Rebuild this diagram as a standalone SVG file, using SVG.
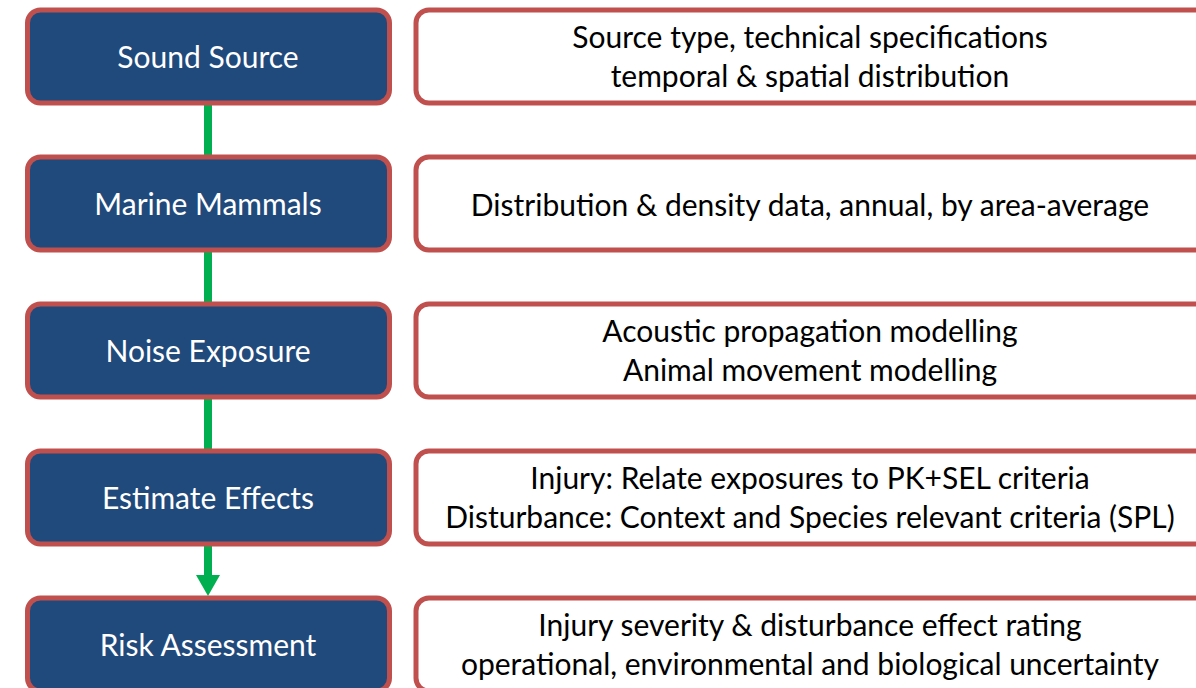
<svg xmlns="http://www.w3.org/2000/svg" width="1196" height="688" viewBox="0 0 1196 688">
<style>
.lb{fill:#214A7C;stroke:#C0504D;stroke-width:5}
.rb{fill:#fff;stroke:#C0504D;stroke-width:5}
.lt{font-family:Lato,"Open Sans",sans-serif;font-size:30px;fill:#fff;text-anchor:middle}
.rt{font-family:Lato,"Open Sans",sans-serif;font-size:30px;fill:#000;text-anchor:middle}
.cn{stroke:#00B050;stroke-width:8;fill:none}
</style>
<g id="connectors">
<line class="cn" x1="208" y1="105" x2="208" y2="157"/>
<line class="cn" x1="208" y1="252" x2="208" y2="304"/>
<line class="cn" x1="208" y1="399" x2="208" y2="451"/>
<line class="cn" x1="208" y1="546" x2="208" y2="576"/>
<path d="M196,575 L220,575 L208,596 Z" fill="#00B050"/>
</g>
<g id="sound-source"><rect class="lb" x="27.5" y="10" width="362" height="93" rx="13"/><text class="lt" x="208" y="68">Sound Source</text></g>
<g id="source-details"><rect class="rb" x="416" y="10" width="800" height="93" rx="13"/><text class="rt" x="810" y="48">Source type, technical specifications</text><text class="rt" x="810" y="87">temporal &amp; spatial distribution</text></g>
<g id="marine-mammals"><rect class="lb" x="27.5" y="157" width="362" height="93" rx="13"/><text class="lt" x="208" y="215">Marine Mammals</text></g>
<g id="mammal-details"><rect class="rb" x="416" y="157" width="800" height="93" rx="13"/><text class="rt" x="810" y="216">Distribution &amp; density data, annual, by area-average</text></g>
<g id="noise-exposure"><rect class="lb" x="27.5" y="304" width="362" height="93" rx="13"/><text class="lt" x="208" y="362">Noise Exposure</text></g>
<g id="exposure-details"><rect class="rb" x="416" y="304" width="800" height="93" rx="13"/><text class="rt" x="810" y="342">Acoustic propagation modelling</text><text class="rt" x="810" y="381">Animal movement modelling</text></g>
<g id="estimate-effects"><rect class="lb" x="27.5" y="451" width="362" height="93" rx="13"/><text class="lt" x="208" y="509">Estimate Effects</text></g>
<g id="effects-details"><rect class="rb" x="416" y="451" width="800" height="93" rx="13"/><text class="rt" x="810" y="489">Injury: Relate exposures to PK+SEL criteria</text><text class="rt" x="810" y="528">Disturbance: Context and Species relevant criteria (SPL)</text></g>
<g id="risk-assessment"><rect class="lb" x="27.5" y="598" width="362" height="93" rx="13"/><text class="lt" x="208" y="656">Risk Assessment</text></g>
<g id="risk-details"><rect class="rb" x="416" y="598" width="800" height="93" rx="13"/><text class="rt" x="810" y="636">Injury severity &amp; disturbance effect rating</text><text class="rt" x="810" y="675">operational, environmental and biological uncertainty</text></g>
</svg>
